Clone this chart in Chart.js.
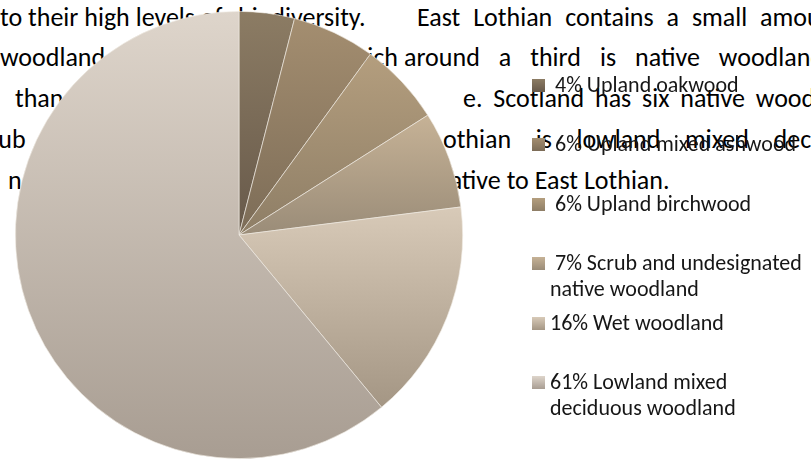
<!DOCTYPE html>
<html>
<head>
<meta charset="utf-8">
<title>Native woodland types</title>
<script src="https://cdn.jsdelivr.net/npm/chart.js@4.4.1/dist/chart.umd.min.js"></script>
<style>
  html, body { margin: 0; padding: 0; background: #fff; }
  body { position: relative; width: 811px; height: 462px; overflow: hidden; font-family: Carlito, Calibri, Lato, sans-serif; }
  .doc { position: absolute; font-size: 26px; line-height: 26px; color: #000; white-space: nowrap; }
  .doc.just { text-align: justify; text-align-last: justify; }
  #pie { position: absolute; left: 0; top: 0; }
  #legend { position: absolute; left: 532px; top: 72px; width: 279px; }
  .item { position: relative; height: 59.4px; }
  .item .box { position: absolute; left: 0; top: 7px; width: 13px; height: 13px; }
  .item .lbl { position: absolute; left: 18px; top: 0; width: 262px; font-size: 22px; line-height: 26px; color: #161616; white-space: pre-wrap; }
</style>
</head>
<body>
<!-- paragraph text running behind the chart -->
<div class="doc" style="left:0;top:4px">to their high levels of</div>
<div class="doc" style="left:238px;top:4px">biodiversity.</div>
<div class="doc" style="left:417px;top:4px;word-spacing:7px">East Lothian contains a small amount</div>
<div class="doc just" style="left:0;top:44px;width:398px">woodland, of which</div>
<div class="doc just" style="left:404px;top:44px;width:420px">around a third is native woodland</div>
<div class="doc" style="left:15px;top:85px">than the national average</div>
<div class="doc just" style="left:463px;top:85px;width:398px">e. Scotland has six native woodland</div>
<div class="doc" style="left:-32px;top:126px">scrub</div>
<div class="doc just" style="left:432px;top:126px;width:450px">Lothian is lowland mixed deciduous</div>
<div class="doc" style="left:8px;top:167px">none</div>
<div class="doc" style="left:436px;top:167px">native to East Lothian.</div>

<canvas id="pie" width="811" height="462"></canvas>
<div id="legend"></div>

<script>
// woodland types and their share of native woodland (%)
var categories = ['Upland oakwood', 'Upland mixed ashwood', 'Upland birchwood',
  'Scrub and undesignated native woodland', 'Wet woodland', 'Lowland mixed deciduous woodland'];
var shares = [4, 6, 6, 7, 16, 61];

// each slice fades from a lighter top to a darker bottom
var sliceTop = ['#8c7c64', '#a48e70', '#b49e7e', '#c6b296', '#d8cab8', '#ded5cb'];
var sliceBottom = ['#67594a', '#7c6c57', '#8e7e66', '#9a8c78', '#a49684', '#a89d92'];

function sliceFill(c) {
  var i = c.dataIndex;
  var area = c.chart.chartArea;
  if (!area) return sliceTop[i];
  var cx = (area.left + area.right) / 2;
  var cy = (area.top + area.bottom) / 2;
  var r = Math.min(area.right - area.left, area.bottom - area.top) / 2;
  var total = 0, before = 0;
  for (var k = 0; k < shares.length; k++) {
    total += shares[k];
    if (k < i) before += shares[k];
  }
  var a0 = -Math.PI / 2 + 2 * Math.PI * before / total;
  var a1 = a0 + 2 * Math.PI * shares[i] / total;
  var ys = [cy, cy + r * Math.sin(a0), cy + r * Math.sin(a1)];
  [-Math.PI / 2, Math.PI / 2, 3 * Math.PI / 2].forEach(function (t) {
    if (t >= a0 && t <= a1) ys.push(cy + r * Math.sin(t));
  });
  var g = c.chart.ctx.createLinearGradient(0, Math.min.apply(null, ys), 0, Math.max.apply(null, ys));
  g.addColorStop(0, sliceTop[i]);
  g.addColorStop(1, sliceBottom[i]);
  return g;
}

var ctx = document.getElementById('pie').getContext('2d');
var myChart = new Chart(ctx, {
  type: 'pie',
  data: {
    labels: categories,
    datasets: [{
      data: shares,
      backgroundColor: sliceFill,
      borderColor: 'rgba(240,234,226,0.8)',
      borderWidth: 0.8
    }]
  },
  options: {
    responsive: false,
    animation: false,
    layout: { padding: { left: 15, right: 348, top: 11, bottom: 3 } },
    plugins: {
      legend: { display: false },
      tooltip: { enabled: false }
    }
  }
});

// legend to the right of the pie
var legend = document.getElementById('legend');
myChart.data.labels.forEach(function (name, i) {
  var item = document.createElement('div');
  item.className = 'item';
  var box = document.createElement('div');
  box.className = 'box';
  box.style.background = 'linear-gradient(' + sliceTop[i] + ',' + sliceBottom[i] + ')';
  var lbl = document.createElement('div');
  lbl.className = 'lbl';
  var pct = myChart.data.datasets[0].data[i];
  lbl.textContent = (pct < 10 ? ' ' : '') + pct + '% ' + name;
  item.appendChild(box);
  item.appendChild(lbl);
  legend.appendChild(item);
});
</script>
</body>
</html>
